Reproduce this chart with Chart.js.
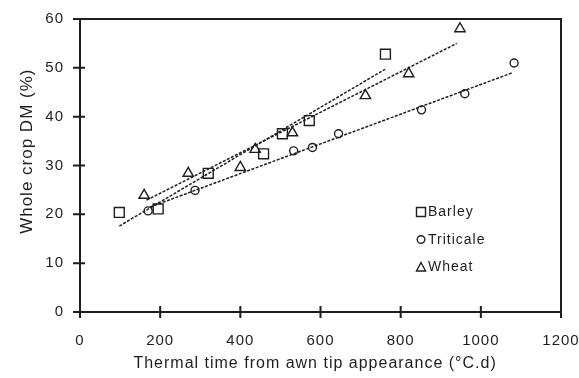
<!DOCTYPE html>
<html>
<head>
<meta charset="utf-8">
<script src="https://cdn.jsdelivr.net/npm/chart.js@4.4.1/dist/chart.umd.min.js"></script>
<style>
  html, body { margin: 0; padding: 0; background: #fff; }
  #wrap { width: 579px; height: 378px; }
</style>
</head>
<body>
<div id="wrap"><canvas id="chart" width="579" height="378"></canvas></div>
<script>
// Thermal time from awn tip appearance (°C.d) vs whole crop DM (%)
const barleyTT = [98, 195, 320, 458, 505, 572, 762];
const barleyDM = [20.4, 21.1, 28.4, 32.4, 36.5, 39.2, 52.8];

const triticaleTT = [170, 287, 533, 580, 645, 852, 960, 1083];
const triticaleDM = [20.7, 24.9, 33.0, 33.7, 36.5, 41.4, 44.7, 51.0];

const wheatTT = [160, 270, 400, 437, 530, 712, 820, 948];
const wheatDM = [23.9, 28.4, 29.6, 33.3, 36.7, 44.3, 48.8, 58.0];

// fitted lines, end points
const barleyFitTT = [98, 761];
const barleyFitDM = [17.6, 49.7];
const triticaleFitTT = [175, 1079];
const triticaleFitDM = [21.5, 49.0];
const wheatFitTT = [166, 940];
const wheatFitDM = [22.9, 55.0];

const xTickValues = [0, 200, 400, 600, 800, 1000, 1200];
const yTickValues = [0, 10, 20, 30, 40, 50, 60];
const legendLabels = ['Barley', 'Triticale', 'Wheat'];

const ink = '#1e1e1e';
const family = '"Liberation Sans", Arial, sans-serif';

function pts(xs, ys) {
    return xs.map((x, i) => ({ x: x, y: ys[i] }));
}

function fitLine(xs, ys) {
    return {
        data: pts(xs, ys),
        showLine: true,
        pointRadius: 0,
        borderColor: ink,
        borderWidth: 1.5,
        borderDash: [3, 1.5]
    };
}

function markers(xs, ys, style, radius) {
    return {
        data: pts(xs, ys),
        pointStyle: style,
        pointRadius: radius,
        pointBorderColor: ink,
        pointBackgroundColor: 'rgba(0,0,0,0)',
        pointBorderWidth: 1.4
    };
}

// frame, crossing tick marks and the in-plot legend
const framePlugin = {
    id: 'frame',
    beforeLayout(chart) { chart.ctx.letterSpacing = '1px'; },
    beforeDraw(chart) { chart.ctx.letterSpacing = '1px'; },
    afterDraw(chart) {
        const { ctx, chartArea: a, scales: { x, y } } = chart;
        ctx.save();
        ctx.strokeStyle = ink;
        ctx.lineWidth = 2;
        ctx.strokeRect(a.left, a.top, a.right - a.left, a.bottom - a.top);

        ctx.beginPath();
        x.ticks.forEach(t => {
            const px = x.getPixelForValue(t.value);
            ctx.moveTo(px, a.bottom - 6);
            ctx.lineTo(px, a.bottom + 6);
        });
        y.ticks.forEach(t => {
            const py = y.getPixelForValue(t.value);
            ctx.moveTo(a.left - 7, py);
            ctx.lineTo(a.left + 5, py);
        });
        ctx.stroke();

        // legend
        const lx = a.left + 341, ly = a.top + 193, step = 27.5;
        ctx.lineWidth = 1.4;
        ctx.font = '14px ' + family;
        ctx.fillStyle = ink;
        ctx.textBaseline = 'middle';
        ctx.textAlign = 'left';
        legendLabels.forEach((label, i) => {
            const cy = ly + i * step;
            ctx.beginPath();
            if (i === 0) {
                ctx.rect(lx - 4.5, cy - 4.5, 9, 9);
            } else if (i === 1) {
                ctx.arc(lx, cy, 3.8, 0, Math.PI * 2);
            } else {
                ctx.moveTo(lx, cy - 4.5);
                ctx.lineTo(lx + 4.5, cy + 4);
                ctx.lineTo(lx - 4.5, cy + 4);
                ctx.closePath();
            }
            ctx.stroke();
            ctx.fillText(label, lx + 7, cy + 0.5);
        });
        ctx.restore();
    }
};

new Chart(document.getElementById('chart'), {
    type: 'scatter',
    data: {
        datasets: [
            markers(barleyTT, barleyDM, 'rect', 7),
            markers(triticaleTT, triticaleDM, 'circle', 4),
            markers(wheatTT, wheatDM, 'triangle', 6),
            fitLine(barleyFitTT, barleyFitDM),
            fitLine(triticaleFitTT, triticaleFitDM),
            fitLine(wheatFitTT, wheatFitDM)
        ]
    },
    options: {
        responsive: false,
        animation: false,
        devicePixelRatio: 1,
        layout: { padding: { left: 0, top: 19, right: 18, bottom: 0 } },
        plugins: {
            legend: { display: false },
            tooltip: { enabled: false }
        },
        scales: {
            x: {
                type: 'linear',
                min: 0,
                max: 1200,
                afterBuildTicks: s => { s.ticks = xTickValues.map(v => ({ value: v })); },
                afterFit: s => { s.height = 66; s.paddingLeft = 0; s.paddingRight = 0; },
                grid: { display: false, drawTicks: false },
                border: { display: false },
                ticks: {
                    padding: 20,
                    color: ink,
                    font: { family: family, size: 15 },
                    maxRotation: 0,
                    callback: v => String(v)
                },
                title: {
                    display: true,
                    text: 'Thermal time from awn tip appearance (°C.d)  ',
                    color: ink,
                    font: { family: family, size: 16 },
                    padding: { top: 0, bottom: 5 }
                }
            },
            y: {
                type: 'linear',
                min: 0,
                max: 60,
                afterBuildTicks: s => { s.ticks = yTickValues.map(v => ({ value: v })); },
                afterFit: s => { s.width = 80; s.paddingTop = 0; s.paddingBottom = 0; },
                grid: { display: false, drawTicks: false },
                border: { display: false },
                ticks: {
                    padding: 16,
                    color: ink,
                    font: { family: family, size: 15 },
                    callback: v => String(v)
                },
                title: {
                    display: true,
                    text: '     Whole crop DM (%)',
                    color: ink,
                    font: { family: family, size: 17 },
                    padding: { top: 17, bottom: 0 }
                }
            }
        }
    },
    plugins: [framePlugin]
});
</script>
</body>
</html>
